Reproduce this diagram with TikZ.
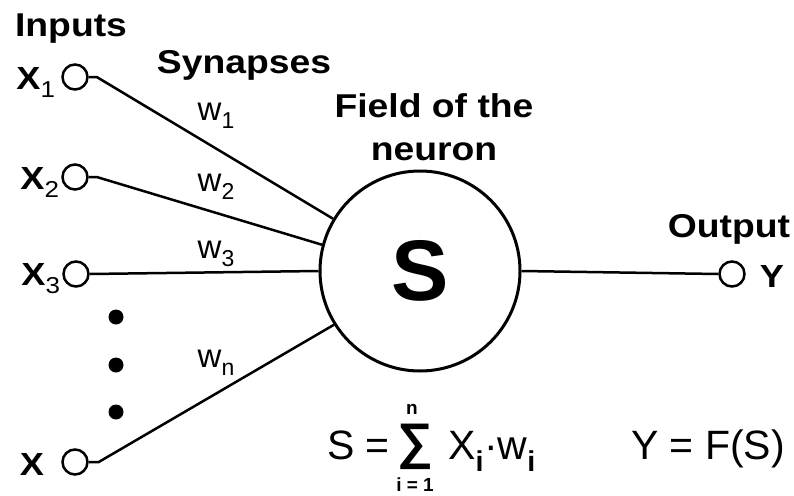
\documentclass[tikz,border=0pt]{standalone}
\usepackage{fontspec}
\setmainfont{Liberation Sans}
\newfontfamily\widesans{Liberation Sans}[FakeStretch=1.13]
\usetikzlibrary{positioning}
\newcommand{\lowsub}[1]{\raisebox{-8pt}{\fontsize{23}{23}\selectfont\mdseries#1}}
\tikzset{
  term/.style={circle,draw,line width=2.5pt,minimum size=25pt,inner sep=0pt},
  soma/.style={circle,draw,line width=3pt,minimum size=200pt,inner sep=0pt,font=\fontsize{86}{90}\selectfont\bfseries},
  syn/.style={line width=2.5pt},
  hdr/.style={font=\widesans\fontsize{33}{43}\selectfont\bfseries,align=center,inner sep=0pt,anchor=base},
  xlbl/.style={font=\widesans\fontsize{32}{34}\selectfont\bfseries,inner sep=0pt,yshift=-5pt},
  wlbl/.style={font=\fontsize{33}{34}\selectfont,inner sep=0pt},
  frm/.style={font=\fontsize{41}{44}\selectfont,inner sep=0pt},
  lim/.style={font=\fontsize{19}{21}\selectfont\bfseries,inner sep=0pt,anchor=base},
  dotc/.style={circle,fill,minimum size=15pt,inner sep=0pt}
}

\begin{document}
\begin{tikzpicture}[x=1pt,y=-1pt,node distance=6pt]
  \useasboundingbox (0,0) rectangle (794,495);
  \node[soma] (soma) at (420,271) {S};
  \node[term] (inp1) at (75,77) {};
  \node[term] (inp2) at (75,177) {};
  \node[term] (inp3) at (76,274) {};
  \node[term] (inpn) at (75,462) {};
  \node[term] (outc) at (732,274) {};
  \node[left=6pt of inp1, xlbl] (x1) {X\lowsub{1}};
  \node[left=2pt of inp2, xlbl] (x2) {X\lowsub{2}};
  \node[left=2pt of inp3, xlbl] (x3) {X\lowsub{3}};
  \node[left=17pt of inpn, xlbl, yshift=3pt] (xn) {X};
  \node[right=14pt of outc, xlbl, yshift=3pt] (yout) {Y};
  \foreach \i/\y in {1/317,2/365,3/412}
    \node[dotc] (dot\i) at (116,\y) {};
  \node[hdr] (inputs) at (71,37) {Inputs};
  \node[hdr] (synapses) at (244,74) {Synapses};
  \node[hdr] (field) at (434,160) {Field of the\\neuron};
  \node[hdr] (output) at (729,237) {Output};
  \node[wlbl] (w1) at (216,116) {w\lowsub{1}};
  \node[wlbl] (w2) at (216,187) {w\lowsub{2}};
  \node[wlbl] (w3) at (216,254) {w\lowsub{3}};
  \node[wlbl] (wn) at (216,363) {w\lowsub{n}};

  \draw[syn] (inp1.east) -- ++(8,0) -- (soma.149);
  \draw[syn] (inp2.east) -- ++(8,0) -- (soma.165);
  \draw[syn] (inp3.east) -- (soma.west);
  \draw[syn] (inpn.east) -- ++(10,0) -- (soma.212);
  \draw[syn] (soma.east) -- (outc.west);

  \node[frm, anchor=base west] (seq) at (327,459) {S =};
  \node[font=\fontsize{50}{50}\selectfont\bfseries, inner sep=0pt, text height=35pt, text depth=17pt, anchor=base] (sig) at (415,458) {∑};
  \node[lim] (upper) at (412,414) {n};
  \node[lim] (lower) at (415,491) {i = 1};
  \node[frm, anchor=base west] (xw) at (448,459) {X\textsubscript{\bfseries i}·w\textsubscript{\bfseries i}};
  \node[frm, anchor=base] (fout) at (708,459) {Y = F(S)};
\end{tikzpicture}
\end{document}
